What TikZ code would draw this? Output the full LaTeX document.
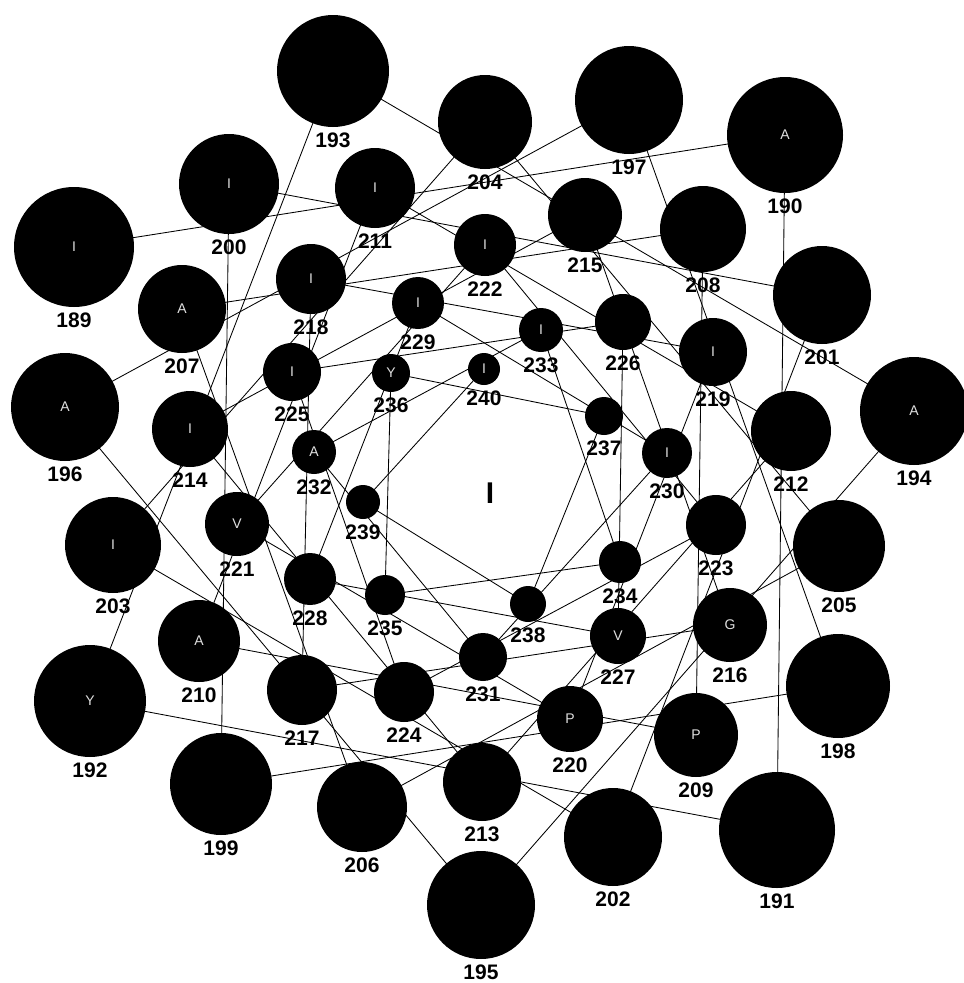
\documentclass[tikz,border=0pt]{standalone}
\usepackage{fontspec}
\setmainfont{Liberation Sans}
\pgfdeclarelayer{back}
\pgfdeclarelayer{lines}
\pgfsetlayers{back,lines,main}
\tikzset{
  res/.style={circle, fill=black, draw=none, inner sep=0pt, text=white!88!black,
    font=\fontsize{14}{14}\selectfont},
  lbl/.style={font=\bfseries\fontsize{21}{21}\selectfont, inner sep=0pt, text=black},
  conn/.style={draw=black, line width=0.85pt},
}
\begin{document}
\begin{tikzpicture}[x=1pt,y=-1pt]
\useasboundingbox (0,0) rectangle (964,983);
\begin{pgfonlayer}{back}
\fill[white] (0,0) rectangle (964,983);
\end{pgfonlayer}
\foreach \n/\x/\y/\r/\l in {
189/74/247/60/I, 190/785/135/58/A, 191/777/830/58/{}, 192/90/701/56/Y,
193/333/71/56/{}, 194/914/411/54/A, 195/481/905/54/{}, 196/65/407/54/A,
197/629/100/54/{}, 198/838/686/52/{}, 199/221/784/51/{}, 200/229/184/50/I,
201/822/295/49/{}, 202/613/837/49/{}, 203/113/545/48/I, 204/485/122/47/{},
205/839/546/46/{}, 206/362/807/45/{}, 207/182/309/44/A, 208/703/229/43/{},
209/696/735/42/P, 210/199/641/41/A, 211/375/188/40/I, 212/791/431/40/{},
213/482/782/39/{}, 214/190/429/38/I, 215/585/215/37/{}, 216/730/625/37/G,
217/302/690/35/{}, 218/311/279/35/I, 219/713/352/34/I, 220/570/719/33/P,
221/237/524/32/V, 222/485/245/31/I, 223/716/525/30/{}, 224/404/692/30/{},
225/292/372/29/I, 226/623/322/28/{}, 227/618/636/28/V, 228/310/579/26/{},
229/418/303/26/I, 230/667/453/25/I, 231/483/657/24/{}, 232/314/452/22/A,
233/541/330/22/I, 234/620/562/21/{}, 235/385/595/20/{}, 236/391/373/19/Y,
237/604/416/19/{}, 238/528/604/18/{}, 239/363/502/17/{}, 240/484/369/16/I}
{
  \pgfmathsetmacro\d{2*\r}
  \node[res, minimum size=\d pt] (n\n) at (\x,\y) {\l};
  \node[lbl] (l\n) at (\x,{\y+\r+13}) {\n};
}
\begin{pgfonlayer}{lines}
\foreach \i in {189,...,239}{
  \pgfmathtruncatemacro\j{\i+1}
  \draw[conn] (n\i.center) -- (n\j.center);
}
\end{pgfonlayer}
\node[font=\bfseries\fontsize{30}{30}\selectfont, inner sep=0pt] (core) at (490,493) {I};
\end{tikzpicture}
\end{document}
